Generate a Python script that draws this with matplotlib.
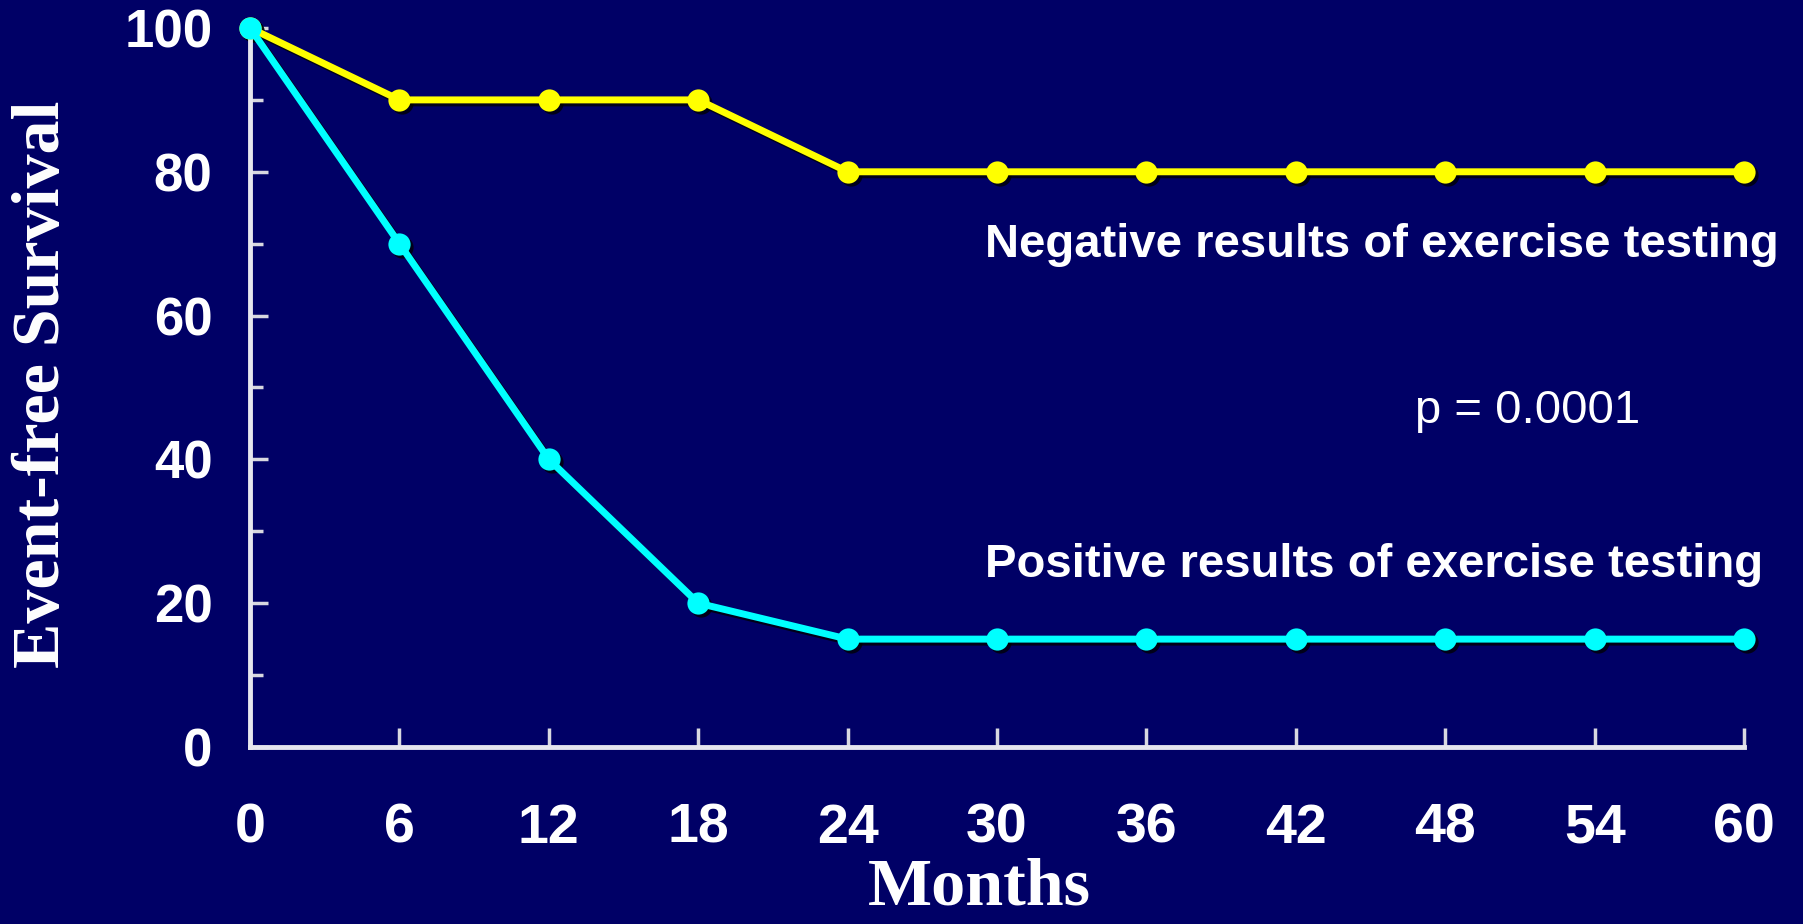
import matplotlib
matplotlib.use("Agg")
import matplotlib.pyplot as plt
from matplotlib.ticker import MultipleLocator
from matplotlib.transforms import offset_copy

# data
months = [0, 6, 12, 18, 24, 30, 36, 42, 48, 54, 60]
negative = [100, 90, 90, 90, 80, 80, 80, 80, 80, 80, 80]
positive = [100, 70, 40, 20, 15, 15, 15, 15, 15, 15, 15]

bg = "#000066"
plt.rcParams['font.family'] = ['Liberation Sans', 'DejaVu Sans']
plt.rcParams['font.weight'] = 'bold'

fig = plt.figure(figsize=(18.03, 9.24), dpi=100, facecolor=bg)
ax = fig.add_axes([0.1387, 0.1916, 0.8286, 0.7781], facecolor=bg)

# drop shadows under the series
shadow = offset_copy(ax.transData, fig=fig, x=3, y=-3, units='dots')
for vals in (negative, positive):
    ax.plot(months, vals, color='black', lw=5, marker='o', ms=16, mew=0,
            alpha=0.75, transform=shadow, clip_on=False, zorder=2)

ax.plot(months, negative, color='#FFFF00', lw=5, marker='o', ms=16, mew=0,
        clip_on=False, zorder=3)
ax.plot(months, positive, color='#00FFFF', lw=5, marker='o', ms=16, mew=0,
        clip_on=False, zorder=4)

ax.set_xlim(0, 60)
ax.set_ylim(0, 100)
ax.set_xticks(months)
ax.yaxis.set_major_locator(MultipleLocator(20))
ax.yaxis.set_minor_locator(MultipleLocator(10))

for s in ('top', 'right'):
    ax.spines[s].set_visible(False)
for s in ('left', 'bottom'):
    ax.spines[s].set_color('#E6E6EE')
    ax.spines[s].set_linewidth(3.5)

ax.tick_params(axis='x', direction='in', length=14, width=2.5, color='#D8D8E0',
               labelsize=40, labelcolor='white', pad=40)
ax.tick_params(axis='y', which='major', direction='in', length=13, width=2.5,
               color='#D8D8E0', labelsize=38, labelcolor='white', pad=27)
ax.tick_params(axis='y', which='minor', direction='in', length=9, width=2.5,
               color='#D8D8E0')

serif = ['Liberation Serif', 'DejaVu Serif']
fig.text(0.0235, 0.584, 'Event-free Survival', rotation=90, ha='center', va='center',
         color='white', fontsize=49, fontweight='bold', family=serif)
fig.text(0.543, 0.021, 'Months', ha='center', va='baseline',
         color='white', fontsize=49, fontweight='bold', family=serif)

ax.text(29.5, 68.1, 'Negative results of exercise testing', color='white',
        fontsize=34, fontweight='bold', va='baseline', ha='left')
ax.text(29.5, 23.6, 'Positive results of exercise testing', color='white',
        fontsize=34, fontweight='bold', va='baseline', ha='left')
ax.text(46.8, 45.1, 'p = 0.0001', color='white',
        fontsize=34, fontweight='normal', va='baseline', ha='left')

fig.savefig('out.png', dpi=100, facecolor=bg)
